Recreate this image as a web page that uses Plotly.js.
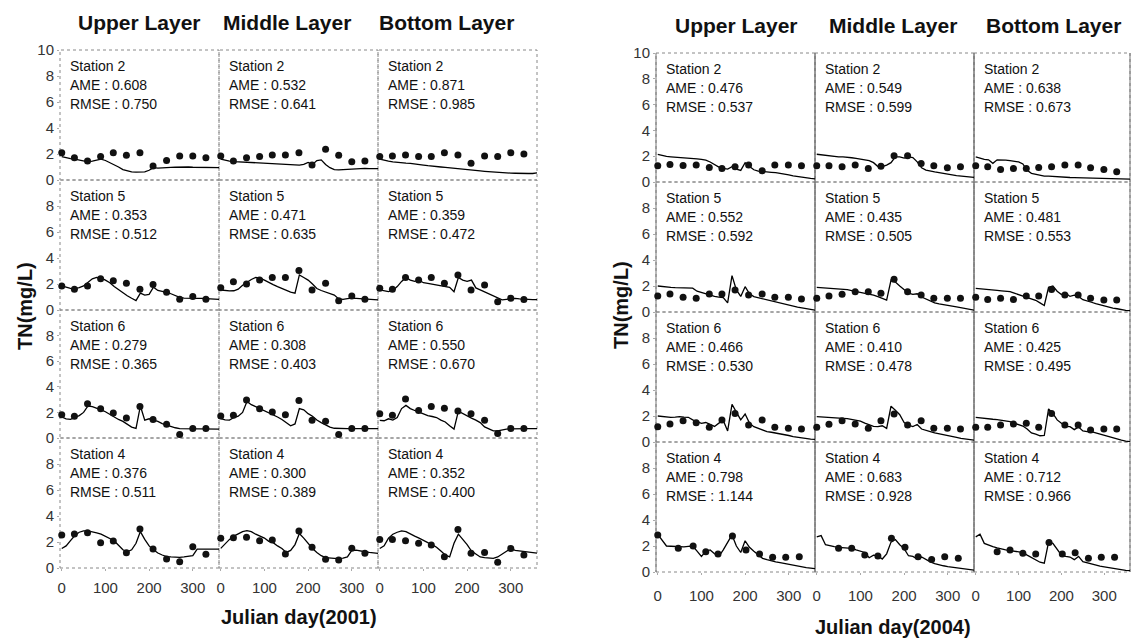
<!DOCTYPE html>
<html>
<head>
<meta charset="utf-8">
<script src="https://cdn.plot.ly/plotly-3.0.1.min.js"></script>
<style>
  html, body { margin: 0; padding: 0; background: #fff; }
  #chart { width: 1132px; height: 639px; }
</style>
</head>
<body>
<div id="chart"></div>
<script>
// ---------- data ----------
const STATIONS = ['Station 2', 'Station 5', 'Station 6', 'Station 4'];
const LAYERS = ['Upper Layer', 'Middle Layer', 'Bottom Layer'];
const X_TICKS = [0, 100, 200, 300];

// simulated TN, sampled every 10 Julian days
const MODEL_DAYS = [0,10,20,30,40,50,60,70,80,90,100,110,120,130,140,150,160,170,180,190,200,210,220,230,240,250,260,270,280,290,300,310,320,330,340,350,360];

// observation days
const OBS_DAYS_2001 = [0,29,59,89,118,148,179,209,240,270,300,330];
const OBS_DAYS_2004 = [0,28,58,88,118,147,177,208,239,268,299,329];
const OBS_DAYS_2004_ST4_UP = [0,47,81,110,138,171,202,233,263,293,324];
const OBS_DAYS_2004_ST4 = [50,80,110,140,171,202,232,263,293,324];

// statistics (rows: stations, columns: layers)
const AME_2001 = [[0.608,0.532,0.871],[0.353,0.471,0.359],[0.279,0.308,0.550],[0.376,0.300,0.352]];
const RMSE_2001 = [[0.750,0.641,0.985],[0.512,0.635,0.472],[0.365,0.403,0.670],[0.511,0.389,0.400]];
const AME_2004 = [[0.476,0.549,0.638],[0.552,0.435,0.481],[0.466,0.410,0.425],[0.798,0.683,0.712]];
const RMSE_2004 = [[0.537,0.599,0.673],[0.592,0.505,0.553],[0.530,0.478,0.495],[1.144,0.928,0.966]];

// ----- 2001 -----
const sim01_s2_up  = [1.8,1.7,1.65,1.6,1.55,1.45,1.4,1.45,1.55,1.6,1.5,1.35,1.2,1.0,0.8,0.7,0.62,0.6,0.6,0.62,0.75,0.95,0.92,0.95,0.95,0.97,0.98,1.0,1.0,1.0,0.98,0.98,0.97,0.96,0.95,0.95,0.95];
const sim01_s2_mid = [1.6,1.5,1.45,1.42,1.4,1.4,1.4,1.38,1.35,1.33,1.32,1.3,1.28,1.27,1.25,1.23,1.2,1.18,1.15,1.2,1.35,1.2,1.5,1.55,1.2,0.95,0.8,0.78,0.8,0.85,0.88,0.9,0.9,0.9,0.88,0.88,0.88];
const sim01_s2_bot = [1.6,1.5,1.45,1.4,1.35,1.33,1.3,1.28,1.25,1.2,1.15,1.1,1.05,1.02,1.0,0.97,0.93,0.9,0.87,0.83,0.8,0.77,0.74,0.7,0.67,0.64,0.6,0.58,0.56,0.55,0.53,0.52,0.5,0.5,0.5,0.5,0.55];
const obs01_s2_up  = [2.1,1.72,1.46,1.8,2.1,1.9,2.1,1.08,1.5,1.85,1.85,1.72];
const obs01_s2_mid = [1.85,1.46,1.72,1.8,1.92,1.92,2.1,1.15,2.36,1.9,1.4,1.46];
const obs01_s2_bot = [1.8,1.85,1.92,1.8,1.8,2.1,1.92,1.28,1.85,1.8,2.1,2.0];

const sim01_s5_up  = [1.85,1.75,1.67,1.65,1.72,1.85,2.15,2.4,2.5,2.45,2.3,2.1,1.8,1.55,1.3,1.1,0.9,0.72,1.3,1.15,1.2,1.75,1.5,1.45,1.35,1.25,1.1,0.97,0.92,0.9,0.9,0.9,0.9,0.88,0.85,0.83,0.82];
const sim01_s5_mid = [1.54,1.5,1.47,1.48,1.6,1.9,2.15,2.35,2.5,2.45,2.3,2.1,1.95,1.8,1.65,1.5,1.38,1.3,2.7,2.5,2.3,2.0,1.65,1.5,1.4,1.3,1.15,0.85,0.82,0.88,0.92,0.9,0.88,0.85,0.83,0.8,0.78];
const sim01_s5_bot = [1.54,1.45,1.41,1.5,1.8,2.2,2.5,2.3,2.2,2.3,2.1,2.05,2.0,1.95,1.9,1.85,1.75,1.4,2.5,2.3,2.2,2.3,1.7,1.55,1.4,1.25,1.1,0.9,0.78,0.82,0.88,0.9,0.85,0.82,0.8,0.8,0.8];
const obs01_s5_up  = [1.85,1.6,1.85,2.4,2.25,2.05,1.6,1.97,1.36,0.82,1.03,0.82];
const obs01_s5_mid = [1.72,2.18,2.0,2.3,2.5,2.5,3.03,1.54,2.05,0.72,1.08,0.82];
const obs01_s5_bot = [1.67,1.6,2.5,2.3,2.5,2.05,2.7,1.54,1.92,0.64,0.9,0.8];

const sim01_s6_up  = [1.64,1.5,1.45,1.6,1.75,2.0,2.5,2.45,2.35,2.2,2.05,1.85,1.6,1.45,1.3,1.1,0.85,0.75,2.5,1.4,1.5,1.4,1.3,1.13,1.0,0.9,0.8,0.74,0.74,0.74,0.74,0.72,0.72,0.7,0.7,0.7,0.69];
const sim01_s6_mid = [1.51,1.42,1.4,1.6,1.7,2.0,2.85,2.6,2.45,2.3,2.15,1.95,1.8,1.64,1.45,1.2,0.95,1.1,2.3,2.2,1.9,1.7,1.4,1.2,1.0,0.85,0.76,0.74,0.74,0.74,0.74,0.74,0.74,0.74,0.74,0.74,0.74];
const sim01_s6_bot = [1.38,1.35,1.5,1.4,1.6,2.3,2.55,2.3,2.15,2.0,1.85,1.75,1.68,1.6,1.4,1.25,0.95,0.7,2.1,1.9,1.7,1.55,1.4,1.2,0.87,0.74,0.55,0.55,0.65,0.7,0.72,0.74,0.74,0.74,0.74,0.74,0.74];
const obs01_s6_up  = [1.82,1.69,2.67,2.28,1.95,1.56,2.46,1.44,1.08,0.28,0.74,0.74];
const obs01_s6_mid = [1.72,1.77,2.97,2.28,2.03,1.82,2.92,1.38,1.31,0.28,0.74,0.74];
const obs01_s6_bot = [1.9,1.77,3.05,2.15,2.46,2.33,2.1,1.9,1.38,0.36,0.74,0.74];

const sim01_s4_up  = [1.5,1.7,2.1,2.5,2.75,2.85,2.85,2.8,2.7,2.6,2.45,2.25,2.1,1.75,1.4,1.25,1.4,1.9,2.8,2.2,1.7,1.4,1.15,1.0,0.88,0.85,0.82,0.82,0.85,0.88,0.95,1.45,1.45,1.45,1.45,1.45,1.45];
const sim01_s4_mid = [1.51,1.85,2.2,2.45,2.65,2.8,2.87,2.8,2.6,2.45,2.3,2.05,1.95,1.7,1.5,1.2,1.35,1.8,2.65,2.3,1.9,1.5,1.2,0.95,0.8,0.75,0.74,0.74,0.76,0.85,1.35,1.38,1.3,1.25,1.2,1.15,1.13];
const sim01_s4_bot = [1.5,1.7,2.3,2.6,2.75,2.85,2.8,2.6,2.45,2.3,2.1,1.95,1.8,1.6,1.3,1.0,0.85,1.9,2.6,2.2,1.8,1.3,1.05,0.85,0.8,0.76,0.74,0.85,1.05,1.3,1.5,1.35,1.3,1.25,1.2,1.2,1.15];
const obs01_s4_up  = [2.54,2.62,2.72,1.95,2.08,1.18,3.0,1.46,0.69,0.49,1.64,1.05];
const obs01_s4_mid = [2.28,2.33,2.36,2.1,2.15,1.08,2.85,1.59,0.67,0.62,1.51,1.13];
const obs01_s4_bot = [2.2,2.2,2.1,1.9,1.77,0.87,2.97,1.13,1.2,0.44,1.5,1.0];

// ----- 2004 -----
const sim04_s2_up  = [2.15,2.05,1.98,1.95,1.93,1.9,1.88,1.86,1.84,1.8,1.75,1.7,1.55,1.35,1.15,1.05,1.0,1.18,1.0,0.9,1.5,1.2,0.95,0.85,0.8,0.78,0.75,0.72,0.68,0.62,0.55,0.48,0.42,0.36,0.32,0.28,0.25];
const sim04_s2_mid = [2.15,2.1,2.05,2.0,1.98,1.95,1.95,1.93,1.88,1.83,1.78,1.74,1.65,1.5,1.2,1.2,1.31,1.5,1.95,1.95,1.85,1.95,1.9,1.56,1.1,0.92,0.82,0.78,0.72,0.68,0.62,0.55,0.5,0.46,0.42,0.38,0.36];
const sim04_s2_bot = [1.95,1.85,1.75,1.72,1.45,1.72,1.72,1.7,1.65,1.6,1.56,1.4,0.9,0.67,0.6,0.5,0.46,0.45,0.42,0.4,0.38,0.36,0.35,0.34,0.33,0.32,0.31,0.3,0.29,0.28,0.27,0.26,0.25,0.25,0.24,0.23,0.23];
const obs04_s2_up  = [1.26,1.36,1.28,1.31,1.13,1.05,1.18,1.31,0.87,1.31,1.31,1.26];
const obs04_s2_mid = [1.26,1.26,1.18,1.31,1.05,1.23,2.03,2.03,1.44,1.26,1.1,1.18];
const obs04_s2_bot = [1.26,1.18,0.97,1.05,1.05,1.13,1.18,1.31,1.31,1.1,0.97,0.8];

const sim04_s5_up  = [2.0,1.95,1.92,1.9,1.88,1.87,1.85,1.84,1.83,1.6,1.5,1.35,1.3,1.2,1.15,1.1,0.7,2.8,1.7,1.2,1.95,1.4,1.18,1.1,1.0,0.95,0.85,0.75,0.68,0.6,0.5,0.45,0.38,0.32,0.25,0.2,0.15];
const sim04_s5_mid = [1.9,1.88,1.85,1.82,1.8,1.78,1.75,1.72,1.65,1.58,1.5,1.45,1.38,1.3,1.18,1.05,0.92,2.45,2.3,2.0,1.75,1.45,1.35,1.4,1.15,1.0,0.85,0.7,0.62,0.55,0.5,0.45,0.4,0.33,0.27,0.2,0.15];
const sim04_s5_bot = [1.82,1.8,1.78,1.75,1.7,1.67,1.63,1.6,1.56,1.45,1.35,1.25,1.15,1.05,0.9,0.7,0.5,1.9,2.0,1.6,1.35,1.45,1.2,1.3,1.2,0.95,0.82,0.75,0.65,0.55,0.45,0.38,0.3,0.25,0.18,0.12,0.1];
const obs04_s5_up  = [1.23,1.38,1.13,1.05,1.38,1.38,1.69,1.31,1.38,1.13,1.13,1.0];
const obs04_s5_mid = [1.05,1.23,1.36,1.56,1.56,1.44,2.51,1.56,1.31,1.05,1.05,1.05];
const obs04_s5_bot = [1.13,0.97,1.05,0.97,1.23,1.23,1.74,1.31,1.31,1.05,0.92,0.92];

const sim04_s6_up  = [2.0,1.95,1.92,1.9,1.92,1.95,1.92,1.9,1.7,1.55,1.44,1.5,1.35,1.2,1.45,1.65,0.85,2.9,2.3,1.7,2.15,1.45,1.18,1.05,0.9,0.8,0.75,0.7,0.65,0.58,0.5,0.42,0.36,0.3,0.26,0.22,0.2];
const sim04_s6_mid = [1.95,1.92,1.9,1.88,1.85,1.83,1.82,1.8,1.75,1.7,1.6,1.45,1.3,1.2,1.18,1.25,1.05,2.75,2.45,2.1,1.5,1.3,1.18,1.35,1.0,0.92,0.8,0.7,0.62,0.55,0.48,0.42,0.35,0.28,0.22,0.18,0.15];
const sim04_s6_bot = [1.9,1.85,1.8,1.78,1.75,1.72,1.68,1.62,1.56,1.45,1.35,1.23,1.0,0.7,0.6,0.48,0.5,2.55,2.2,1.7,1.45,1.2,1.18,0.95,1.15,0.85,0.8,0.8,0.7,0.6,0.5,0.4,0.3,0.22,0.14,0.07,0.03];
const obs04_s6_up  = [1.18,1.38,1.64,1.49,1.13,1.69,2.2,1.31,1.69,1.13,1.05,1.0];
const obs04_s6_mid = [1.13,1.36,1.64,1.38,1.05,1.64,2.15,1.31,1.64,1.05,1.05,1.0];
const obs04_s6_bot = [1.13,1.13,1.31,1.38,1.44,1.13,2.2,1.31,1.31,0.92,1.0,1.0];

const sim04_s4_up  = [2.9,2.4,2.0,1.98,1.95,1.95,1.93,1.97,2.0,1.6,1.2,1.6,1.7,1.4,1.2,1.7,2.3,2.85,2.0,1.5,2.4,1.9,1.6,1.3,1.05,0.95,0.85,0.78,0.72,0.65,0.58,0.5,0.42,0.38,0.33,0.3,0.26];
const sim04_s4_mid = [2.7,2.8,2.1,2.0,1.95,1.9,1.88,1.85,1.82,1.7,1.6,1.5,1.1,1.3,1.25,1.0,1.4,2.3,2.5,2.1,1.8,1.25,1.2,1.0,1.15,0.95,0.78,0.65,0.55,0.48,0.42,0.38,0.33,0.28,0.22,0.18,0.15];
const sim04_s4_bot = [2.7,2.9,2.2,2.05,1.95,1.85,1.75,1.7,1.65,1.6,1.55,1.5,1.3,1.1,0.9,0.75,0.68,2.3,2.2,1.7,1.3,1.2,1.15,0.95,1.2,0.8,0.7,0.6,0.52,0.45,0.4,0.34,0.28,0.22,0.16,0.12,0.1];
const obs04_s4_up  = [2.85,1.82,2.0,1.56,1.38,2.77,1.69,1.38,1.13,1.13,1.18];
const obs04_s4_mid = [1.82,1.82,1.31,1.23,2.59,1.9,1.18,0.97,1.18,1.05];
const obs04_s4_bot = [1.56,1.69,1.44,1.38,2.26,1.38,1.49,1.05,1.13,1.13];

// ---------- lookup tables (row = station, col = layer) ----------
const SIM_2001 = [[sim01_s2_up, sim01_s2_mid, sim01_s2_bot],[sim01_s5_up, sim01_s5_mid, sim01_s5_bot],
                  [sim01_s6_up, sim01_s6_mid, sim01_s6_bot],[sim01_s4_up, sim01_s4_mid, sim01_s4_bot]];
const OBS_2001 = [[obs01_s2_up, obs01_s2_mid, obs01_s2_bot],[obs01_s5_up, obs01_s5_mid, obs01_s5_bot],
                  [obs01_s6_up, obs01_s6_mid, obs01_s6_bot],[obs01_s4_up, obs01_s4_mid, obs01_s4_bot]];
const SIM_2004 = [[sim04_s2_up, sim04_s2_mid, sim04_s2_bot],[sim04_s5_up, sim04_s5_mid, sim04_s5_bot],
                  [sim04_s6_up, sim04_s6_mid, sim04_s6_bot],[sim04_s4_up, sim04_s4_mid, sim04_s4_bot]];
const OBS_2004 = [[obs04_s2_up, obs04_s2_mid, obs04_s2_bot],[obs04_s5_up, obs04_s5_mid, obs04_s5_bot],
                  [obs04_s6_up, obs04_s6_mid, obs04_s6_bot],[obs04_s4_up, obs04_s4_mid, obs04_s4_bot]];

function obsDays2001(row, col) { return OBS_DAYS_2001; }
function obsDays2004(row, col) {
  if (row === 3) return col === 0 ? OBS_DAYS_2004_ST4_UP : OBS_DAYS_2004_ST4;
  return OBS_DAYS_2004;
}

// ---------- layout geometry (pixels) ----------
const W = 1132, H = 639;
const FONT = '"Liberation Sans", Arial, sans-serif';
const PANELS = [
  { year: '2001', cols: [60, 219, 378, 537], rows: [50, 180, 310, 438, 568],
    sim: SIM_2001, obs: OBS_2001, days: obsDays2001, ame: AME_2001, rmse: RMSE_2001,
    titleCx: [139, 287, 447], titleY: 23, xTitleY: 617, yTitleX: 25, yTitleY: 306, tickStandoff: 4, solidSides: false },
  { year: '2004', cols: [656, 815, 974, 1130], rows: [53, 182, 312, 442, 572],
    sim: SIM_2004, obs: OBS_2004, days: obsDays2004, ame: AME_2004, rmse: RMSE_2004,
    titleCx: [736, 893, 1053], titleY: 25, xTitleY: 627, yTitleX: 621, yTitleY: 305, tickStandoff: 8, solidSides: true }
];

const px = x => x / W;
const py = y => 1 - y / H;

const traces = [];
const layout = {
  width: W, height: H,
  margin: { l: 0, r: 0, t: 0, b: 0, pad: 0 },
  paper_bgcolor: '#fff', plot_bgcolor: 'rgba(0,0,0,0)',
  showlegend: false,
  font: { family: FONT, color: '#222' },
  annotations: [], shapes: []
};

let k = 0;
PANELS.forEach(P => {
  for (let r = 0; r < 4; r++) {
    for (let c = 0; c < 3; c++) {
      k++;
      const xa = 'x' + k, ya = 'y' + k;
      const xKey = 'xaxis' + k, yKey = 'yaxis' + k;
      const x0 = P.cols[c], x1 = P.cols[c + 1];
      const y0 = P.rows[r], y1 = P.rows[r + 1];

      layout[xKey] = {
        domain: [px(x0), px(x1)], anchor: ya, range: [-4, 360],
        tickvals: X_TICKS, showticklabels: r === 3,
        ticks: r === 3 ? 'outside' : '', ticklen: 2, tickcolor: '#aaa',
        ticklabelstandoff: P.tickStandoff,
        tickfont: { size: 15, color: '#333', family: FONT },
        showgrid: false, zeroline: false, showline: false, fixedrange: true
      };
      layout[yKey] = {
        domain: [py(y1), py(y0)], anchor: xa, range: [0, 10],
        tickvals: r === 0 ? [0, 2, 4, 6, 8, 10] : [0, 2, 4, 6, 8],
        showticklabels: c === 0,
        ticks: c === 0 ? 'outside' : '', ticklen: 2, tickcolor: '#aaa',
        tickfont: { size: 15, color: '#333', family: FONT },
        showgrid: false, zeroline: false, showline: false, fixedrange: true
      };

      // frame of the cell
      layout.shapes.push({
        type: 'rect', xref: xa + ' domain', yref: ya + ' domain',
        x0: 0, x1: 1, y0: 0, y1: 1, layer: 'below',
        line: { color: '#888', width: 1, dash: 'dot' }
      });
      if (P.solidSides) {
        [0, 1].forEach(e => layout.shapes.push({
          type: 'line', xref: xa + ' domain', yref: ya + ' domain',
          x0: e, x1: e, y0: 0, y1: 1, layer: 'below',
          line: { color: '#777', width: 1 }
        }));
      }

      // simulated line
      traces.push({
        type: 'scatter', mode: 'lines', xaxis: xa, yaxis: ya,
        x: MODEL_DAYS, y: P.sim[r][c],
        line: { color: '#000', width: 1.3 }, hoverinfo: 'skip'
      });
      // observed points
      traces.push({
        type: 'scatter', mode: 'markers', xaxis: xa, yaxis: ya,
        x: P.days(r, c), y: P.obs[r][c], cliponaxis: false,
        marker: { color: '#111', size: 7, line: { width: 0 } }, hoverinfo: 'skip'
      });

      // station label and statistics
      const lines = [STATIONS[r], 'AME : ' + P.ame[r][c].toFixed(3), 'RMSE : ' + P.rmse[r][c].toFixed(3)];
      lines.forEach((t, i) => layout.annotations.push({
        xref: 'paper', yref: 'paper', x: px(x0 + 8), y: py(y0 + 16 + i * 19),
        xanchor: 'left', yanchor: 'middle', showarrow: false, text: t,
        font: { family: FONT, size: 14, color: '#111' }
      }));
    }
  }

  // layer headings
  LAYERS.forEach((t, c) => layout.annotations.push({
    xref: 'paper', yref: 'paper', x: px(P.titleCx[c]), y: py(P.titleY),
    xanchor: 'center', yanchor: 'middle', showarrow: false, text: '<b>' + t + '</b>',
    font: { family: FONT, size: 21, color: '#111' }
  }));
  // axis titles
  layout.annotations.push({
    xref: 'paper', yref: 'paper', x: px((P.cols[0] + P.cols[3]) / 2), y: py(P.xTitleY),
    xanchor: 'center', yanchor: 'middle', showarrow: false,
    text: '<b>Julian day(' + P.year + ')</b>',
    font: { family: FONT, size: 20, color: '#111' }
  });
  layout.annotations.push({
    xref: 'paper', yref: 'paper', x: px(P.yTitleX), y: py(P.yTitleY),
    xanchor: 'center', yanchor: 'middle', showarrow: false, textangle: -90,
    text: '<b>TN(mg/L)</b>',
    font: { family: FONT, size: 20, color: '#111' }
  });
});

Plotly.newPlot('chart', traces, layout, { staticPlot: true, displayModeBar: false });
</script>
</body>
</html>
